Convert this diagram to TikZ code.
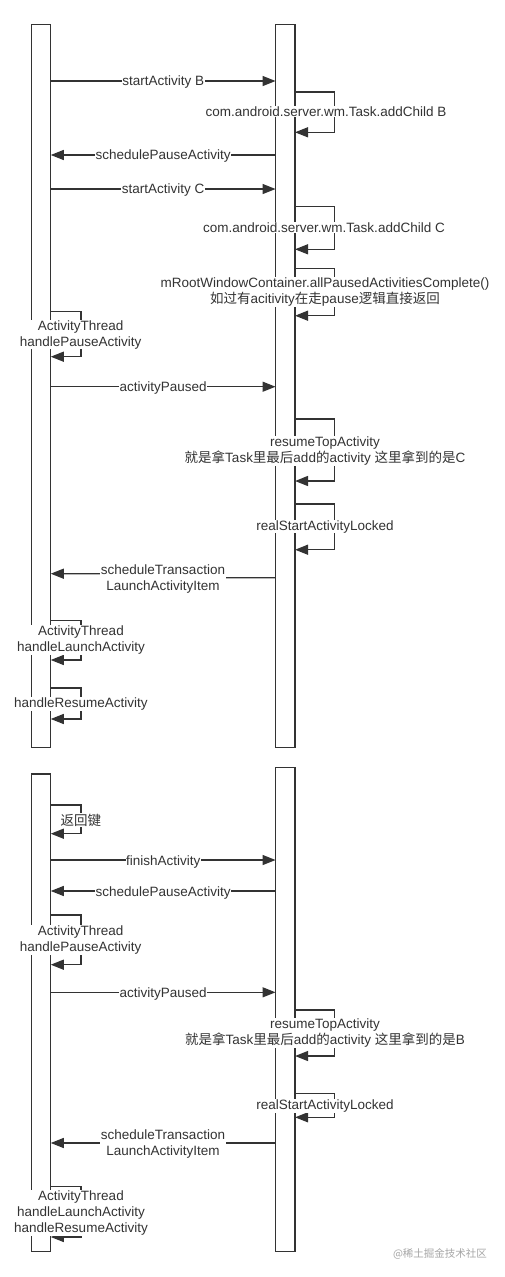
\documentclass[tikz,border=0pt]{standalone}
\usepackage{fontspec}
\setmainfont{Liberation Sans}
\newfontfamily\cjk{Noto Sans CJK SC}
\usetikzlibrary{arrows.meta}
\newcommand\zh[1]{{\cjk #1}}
\definecolor{ln}{HTML}{333333}
\definecolor{tx}{HTML}{333333}
\tikzset{
  lifeline/.style={draw=ln, line width=1.3pt, fill=white, minimum width=19.5pt, outer sep=0pt, inner sep=0pt},
  msg/.style={draw=ln, line width=1.3pt, -{Triangle[length=13pt,width=10pt]}},
  lbl/.style={fill=white, inner sep=0.5pt, text=tx, align=center, font=\fontsize{13.5}{16}\selectfont},
  mlbl/.style={lbl, yshift=-1.5pt},
  wm/.style={text=black!35, font=\fontsize{10.5}{12}\selectfont\cjk, inner sep=0pt}
}
\begin{document}
\begin{tikzpicture}[x=1pt,y=-1pt]
\useasboundingbox[fill=white] (0,0) rectangle (504,1277);
% lifelines
\node[lifeline, minimum height=722.6pt] (L1) at (41,386) {};
\node[lifeline, minimum height=722.6pt] (R1) at (285.3,386) {};
\node[lifeline, minimum height=477.3pt] (L2) at (41,1012.7) {};
\node[lifeline, minimum height=483.6pt] (R2) at (285.3,1009.5) {};

% ---- top section ----
\draw[msg] (L1.east |- 0,81) -- (R1.west |- 0,81)
  node[mlbl, midway] (m1) {startActivity B};
\draw[msg] (R1.east |- 0,92) -- ++(39.2,0) -- ++(0,40.3) -- (R1.east |- 0,132.3);
\node[lbl] (s1) at (326,111.7) {com.android.server.wm.Task.addChild B};
\draw[msg] (R1.west |- 0,155) -- (L1.east |- 0,155)
  node[mlbl, midway] (m2) {schedulePauseActivity};
\draw[msg] (L1.east |- 0,189) -- (R1.west |- 0,189)
  node[mlbl, midway] (m3) {startActivity C};
\draw[msg] (R1.east |- 0,206.7) -- ++(39.2,0) -- ++(0,42.6) -- (R1.east |- 0,249.3);
\node[lbl] (s2) at (324,227.3) {com.android.server.wm.Task.addChild C};
\draw[msg] (R1.east |- 0,268.3) -- ++(39.2,0) -- ++(0,47.4) -- (R1.east |- 0,315.7);
\node[lbl] (s3) at (325,292) {mRootWindowContainer.allPausedActivitiesComplete()\\\zh{如过有}acitivity\zh{在走}pause\zh{逻辑直接返回}};
\draw[msg] (L1.east |- 0,311.7) -- ++(30.3,0) -- ++(0,45) -- (L1.east |- 0,356.7);
\node[lbl] (s4) at (80.7,334.7) {ActivityThread\\handlePauseActivity};
\draw[msg] (L1.east |- 0,386.7) -- (R1.west |- 0,386.7)
  node[mlbl, midway] (m4) {activityPaused};
\draw[msg] (R1.east |- 0,419) -- ++(39.2,0) -- ++(0,62) -- (R1.east |- 0,481);
\node[lbl] (s5) at (325,451) {resumeTopActivity\\\zh{就是拿}Task\zh{里最后}add\zh{的}activity \zh{这里拿到的是}C};
\draw[msg] (R1.east |- 0,504) -- ++(39.2,0) -- ++(0,45.7) -- (R1.east |- 0,549.7);
\node[lbl] (s6) at (325,526.7) {realStartActivityLocked};
\draw[msg] (R1.west |- 0,577.7) -- (200,577.7) -- (120,573.7) -- (L1.east |- 0,573.7);
\node[lbl] (m5) at (163,578.7) {scheduleTransaction\\LaunchActivityItem};
\draw[msg] (L1.east |- 0,620.7) -- ++(30.3,0) -- ++(0,39.3) -- (L1.east |- 0,660);
\node[lbl] (s7) at (81,639.7) {ActivityThread\\handleLaunchActivity};
\draw[msg] (L1.east |- 0,688) -- ++(30.3,0) -- ++(0,31) -- (L1.east |- 0,719);
\node[lbl] (s8) at (80.8,704) {handleResumeActivity};

% ---- bottom section ----
\draw[msg] (L2.east |- 0,805) -- ++(30.3,0) -- ++(0,28.7) -- (L2.east |- 0,833.7);
\node[lbl, font=\fontsize{13.5}{16}\selectfont\cjk] (t1) at (80.8,820) {返回键};
\draw[msg] (L2.east |- 0,860) -- (R2.west |- 0,860)
  node[mlbl, midway] (n1) {finishActivity};
\draw[msg] (R2.west |- 0,891) -- (L2.east |- 0,891)
  node[mlbl, midway] (n2) {schedulePauseActivity};
\draw[msg] (L2.east |- 0,915) -- ++(30.3,0) -- ++(0,49.7) -- (L2.east |- 0,964.7);
\node[lbl] (t2) at (80.7,939.7) {ActivityThread\\handlePauseActivity};
\draw[msg] (L2.east |- 0,992.3) -- (R2.west |- 0,992.3)
  node[mlbl, midway] (n3) {activityPaused};
\draw[msg] (R2.east |- 0,1010) -- ++(39.2,0) -- ++(0,46) -- (R2.east |- 0,1056);
\node[lbl] (t3) at (325,1032.9) {resumeTopActivity\\\zh{就是拿}Task\zh{里最后}add\zh{的}activity \zh{这里拿到的是}B};
\draw[msg] (R2.east |- 0,1093.3) -- ++(39.2,0) -- ++(0,24) -- (R2.east |- 0,1117.3);
\node[lbl] (t4) at (325,1105.7) {realStartActivityLocked};
\draw[msg] (R2.west |- 0,1143) -- (L2.east |- 0,1143);
\node[lbl] (n4) at (163,1143.7) {scheduleTransaction\\LaunchActivityItem};
\draw[msg] (L2.east |- 0,1186.3) -- ++(30.3,0) -- ++(0,50.7) -- (L2.east |- 0,1237);
\node[lbl] (t5) at (81,1212.7) {ActivityThread\\handleLaunchActivity\\handleResumeActivity};

\node[wm] (w) at (440,1254.3) {@稀土掘金技术社区};
\end{tikzpicture}
\end{document}
